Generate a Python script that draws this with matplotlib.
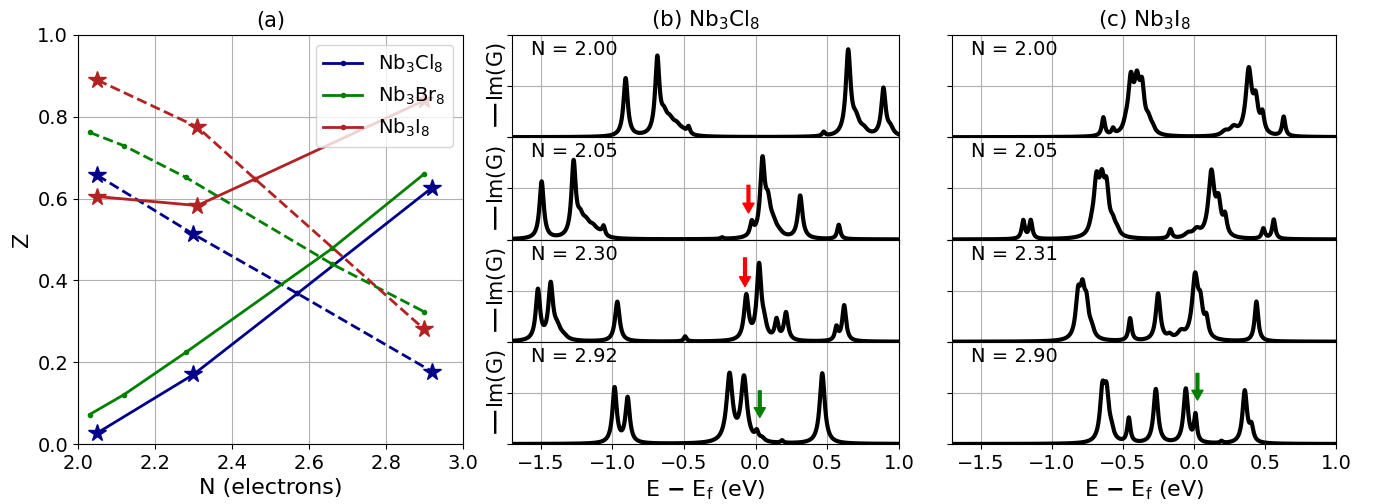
import numpy as np
import matplotlib.pyplot as plt

# ---- panel (a): quasiparticle weight Z vs filling N ----
cl8_n = [2.05, 2.30, 2.57, 2.92]
cl8_z1 = [0.027, 0.170, 0.368, 0.627]
cl8_z2 = [0.657, 0.513, 0.368, 0.177]
cl8_star_n = [2.05, 2.30, 2.92]
cl8_star_z1 = [0.027, 0.170, 0.627]
cl8_star_z2 = [0.657, 0.513, 0.177]

br8_n = [2.03, 2.12, 2.28, 2.66, 2.90]
br8_z1 = [0.072, 0.121, 0.224, 0.478, 0.661]
br8_z2 = [0.762, 0.729, 0.652, 0.440, 0.323]

i8_n = [2.05, 2.31, 2.46, 2.90]
i8_z1 = [0.605, 0.583, 0.648, 0.840]
i8_z2 = [0.890, 0.775, 0.648, 0.280]
i8_star_n = [2.05, 2.31, 2.90]
i8_star_z1 = [0.605, 0.583, 0.840]
i8_star_z2 = [0.890, 0.775, 0.280]

# ---- spectra: peaks as (energy eV, height, half width eV) ----
cl8_labels = ['N = 2.00', 'N = 2.05', 'N = 2.30', 'N = 2.92']
cl8_n200 = [(-0.907, 0.57, 0.018), (-0.686, 0.74, 0.018), (-0.640, 0.14, 0.025),
            (-0.60, 0.12, 0.035), (-0.55, 0.08, 0.035), (-0.505, 0.03, 0.03),
            (-0.468, 0.07, 0.012), (0.475, 0.04, 0.012), (0.646, 0.82, 0.02),
            (0.70, 0.14, 0.03), (0.755, 0.05, 0.03), (0.892, 0.46, 0.018),
            (0.94, 0.07, 0.025)]
cl8_n205 = [(-1.493, 0.56, 0.018), (-1.270, 0.72, 0.018), (-1.224, 0.14, 0.025),
            (-1.184, 0.12, 0.035), (-1.134, 0.08, 0.035), (-1.09, 0.03, 0.03),
            (-1.061, 0.09, 0.012), (-0.234, 0.015, 0.012), (-0.027, 0.13, 0.014),
            (0.048, 0.72, 0.019), (0.086, 0.28, 0.022), (0.124, 0.11, 0.03),
            (0.165, 0.03, 0.03), (0.311, 0.42, 0.019), (0.58, 0.14, 0.013)]
cl8_n230 = [(-1.519, 0.49, 0.018), (-1.430, 0.53, 0.019), (-1.385, 0.11, 0.03),
            (-1.34, 0.03, 0.03), (-0.965, 0.39, 0.019), (-0.492, 0.05, 0.012),
            (-0.065, 0.43, 0.019), (0.024, 0.72, 0.019), (0.06, 0.12, 0.02),
            (0.146, 0.19, 0.015), (0.212, 0.27, 0.017), (0.564, 0.13, 0.013),
            (0.618, 0.35, 0.016)]
cl8_n292 = [(-0.984, 0.54, 0.018), (-0.893, 0.44, 0.018), (-0.182, 0.66, 0.025),
            (-0.081, 0.63, 0.025), (0.008, 0.08, 0.014), (0.045, 0.03, 0.02),
            (0.184, 0.025, 0.01), (0.465, 0.69, 0.021)]

i8_labels = ['N = 2.00', 'N = 2.05', 'N = 2.31', 'N = 2.90']
i8_n200 = [(-0.636, 0.18, 0.013), (-0.568, 0.06, 0.012), (-0.478, 0.06, 0.02),
           (-0.443, 0.50, 0.022), (-0.400, 0.44, 0.022), (-0.364, 0.40, 0.02),
           (-0.32, 0.11, 0.022), (-0.29, 0.05, 0.02), (0.22, 0.04, 0.03),
           (0.28, 0.07, 0.03), (0.387, 0.63, 0.025), (0.436, 0.30, 0.02),
           (0.483, 0.18, 0.016), (0.633, 0.19, 0.013)]
i8_n205 = [(-1.200, 0.18, 0.013), (-1.147, 0.18, 0.013), (-0.718, 0.06, 0.02),
           (-0.685, 0.50, 0.022), (-0.647, 0.44, 0.022), (-0.614, 0.40, 0.02),
           (-0.57, 0.11, 0.022), (-0.54, 0.05, 0.02), (-0.164, 0.09, 0.013),
           (-0.04, 0.04, 0.03), (0.02, 0.07, 0.03), (0.124, 0.63, 0.025),
           (0.174, 0.30, 0.02), (0.22, 0.18, 0.016), (0.49, 0.10, 0.013),
           (0.563, 0.19, 0.013)]
i8_n231 = [(-0.814, 0.40, 0.02), (-0.783, 0.40, 0.02), (-0.755, 0.28, 0.018),
           (-0.72, 0.09, 0.022), (-0.448, 0.22, 0.013), (-0.251, 0.46, 0.019),
           (-0.17, 0.04, 0.02), (-0.09, 0.07, 0.03), (0.009, 0.60, 0.025),
           (0.047, 0.28, 0.02), (0.089, 0.17, 0.016), (0.441, 0.39, 0.015)]
i8_n290 = [(-0.643, 0.46, 0.02), (-0.614, 0.43, 0.02), (-0.58, 0.08, 0.02),
           (-0.457, 0.24, 0.013), (-0.267, 0.53, 0.019), (-0.056, 0.53, 0.019),
           (0.012, 0.26, 0.012), (0.195, 0.02, 0.01), (0.359, 0.51, 0.019),
           (0.406, 0.14, 0.016)]

# arrows: (row, energy, tail height, tip height, colour)
cl8_arrows = [(1, -0.050, 0.53, 0.26, 'red'), (2, -0.074, 0.82, 0.54, 'red'),
              (3, 0.029, 0.52, 0.26, 'green')]
i8_arrows = [(3, 0.026, 0.69, 0.43, 'green')]


def spectrum(E, peaks):
    A = np.zeros_like(E)
    for e0, h, g in peaks:
        A += h * g**2 / ((E - e0)**2 + g**2)
    return A


E = np.linspace(-1.7, 1.0, 3000)
fs = 14

fig = plt.figure(figsize=(13.8, 5.04), dpi=100)

# panel (a)
ax = fig.add_axes([0.0565, 0.119, 0.279, 0.8116])
cols = {'cl': 'darkblue', 'br': 'green', 'i': 'firebrick'}
ax.plot(cl8_n, cl8_z1, '.-', color=cols['cl'], lw=2, label='Nb$_3$Cl$_8$')
ax.plot(cl8_n, cl8_z2, '.--', color=cols['cl'], lw=2)
ax.plot(br8_n, br8_z1, '.-', color=cols['br'], lw=2, label='Nb$_3$Br$_8$')
ax.plot(br8_n, br8_z2, '.--', color=cols['br'], lw=2)
ax.plot(i8_n, i8_z1, '.-', color=cols['i'], lw=2, label='Nb$_3$I$_8$')
ax.plot(i8_n, i8_z2, '.--', color=cols['i'], lw=2)
ax.plot(cl8_star_n, cl8_star_z1, '*', color=cols['cl'], ms=13)
ax.plot(cl8_star_n, cl8_star_z2, '*', color=cols['cl'], ms=13)
ax.plot(i8_star_n, i8_star_z1, '*', color=cols['i'], ms=13)
ax.plot(i8_star_n, i8_star_z2, '*', color=cols['i'], ms=13)
ax.set_xlim(2.0, 3.0)
ax.set_ylim(0.0, 1.0)
ax.grid(True)
ax.tick_params(labelsize=fs)
ax.set_xlabel('N (electrons)', fontsize=16)
ax.set_ylabel('Z', fontsize=16)
ax.set_title('(a)', fontsize=15)
ax.legend(loc='upper right', fontsize=fs)


def spectra_column(x0, width, spectra, labels, arrows, title, ylabel):
    top, bot = 0.9306, 0.119
    h = (top - bot) / 4
    axes = []
    for k, (peaks, lab) in enumerate(zip(spectra, labels)):
        a = fig.add_axes([x0, top - (k + 1) * h, width, h])
        a.plot(E, spectrum(E, peaks), color='black', lw=3)
        a.set_xlim(-1.7, 1.0)
        a.set_ylim(0, 1)
        a.set_yticks([0, 0.5, 1])
        a.set_yticklabels([])
        a.set_xticks([-1.5, -1.0, -0.5, 0.0, 0.5, 1.0])
        a.grid(True)
        a.text(0.05, 0.95, lab, transform=a.transAxes, va='top', fontsize=fs)
        if ylabel:
            a.set_ylabel(r'$\mathbf{-}\!\!\mathbf{-}$Im(G)', fontsize=15,
                         labelpad=-4)
        if k < 3:
            a.set_xticklabels([])
        else:
            a.tick_params(labelsize=fs)
            a.set_xlabel(r'E $\mathbf{-}$ E$_\mathrm{f}$ (eV)', fontsize=16)
        axes.append(a)
    axes[0].set_title(title, fontsize=15.5)
    for row, e0, y0, y1, c in arrows:
        axes[row].annotate('', xy=(e0, y1), xytext=(e0, y0),
                           arrowprops=dict(color=c, width=2, headwidth=8,
                                           headlength=7, shrink=0))
    return axes


spectra_column(0.371, 0.2804, [cl8_n200, cl8_n205, cl8_n230, cl8_n292],
               cl8_labels, cl8_arrows, '(b) Nb$_3$Cl$_8$', True)
spectra_column(0.690, 0.278, [i8_n200, i8_n205, i8_n231, i8_n290],
               i8_labels, i8_arrows, '(c) Nb$_3$I$_8$', False)

fig.savefig('out.png', dpi=100)
